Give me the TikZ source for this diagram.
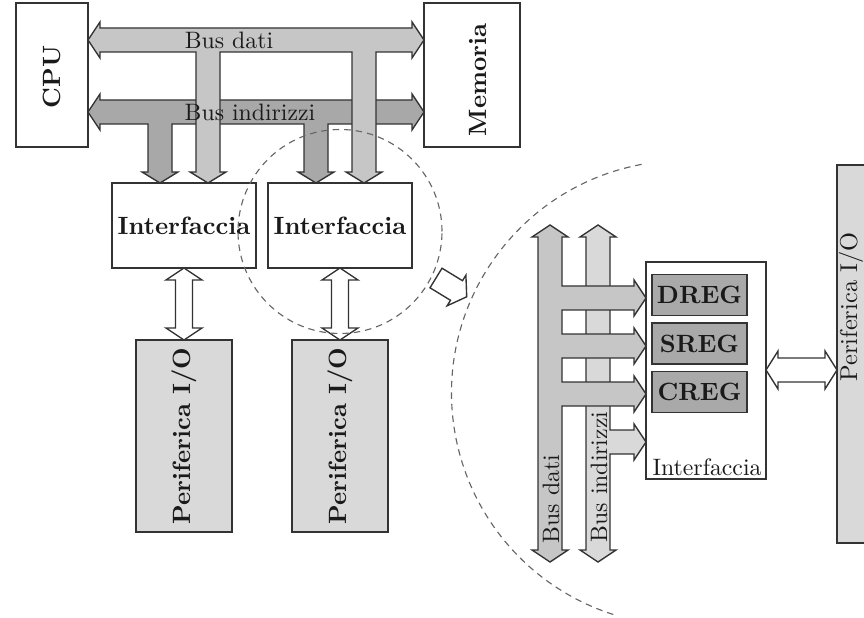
\documentclass[tikz,border=0pt]{standalone}
\usetikzlibrary{fit}
\definecolor{busD}{HTML}{C6C6C6}
\definecolor{busI}{HTML}{A8A8A8}
\definecolor{lightF}{HTML}{D9D9D9}
\definecolor{regF}{HTML}{A9A9A9}
\definecolor{lc}{HTML}{333333}
\definecolor{dashc}{HTML}{666666}
\definecolor{tc}{HTML}{1A1A1A}
\begin{document}
\begin{tikzpicture}[x=0.4pt,y=-0.4pt,
  box/.style={draw=lc, line width=0.55pt, inner sep=0pt, fill=white},
  greybox/.style={box, fill=lightF},
  regbox/.style={box, fill=regF},
  fat/.style={draw=lc, line width=0.55pt, line join=miter},
  lbl/.style={font=\bfseries, text=tc, inner sep=0pt},
  buslbl/.style={font=\fontsize{9.5}{11}\selectfont, text=tc, inner sep=0pt},
  dashcirc/.style={draw=dashc, line width=0.45pt, dash pattern=on 2.6pt off 2pt}]
\clip (0,0) rectangle (864,618);
\fill[white] (0,0) rectangle (864,618);

% ---------- left part: boxes ----------
\node[box, fit={(16,3) (88,147)}] (cpu) {};
\node[box, fit={(424,3) (520,147)}] (mem) {};
\node[box, fit={(112,183) (256,268)}] (if1) {};
\node[box, fit={(268,183) (412,268)}] (if2) {};
\node[greybox, fit={(136,340) (232,532)}] (per1) {};
\node[greybox, fit={(292,340) (388,532)}] (per2) {};

% Bus indirizzi (top)
\draw[fat, fill=busI] (88,112) -- (100,94) -- (100,100) -- (412,100) -- (412,94) -- (424,112)
  -- (412,130) -- (412,124) -- (328,124) -- (328,172) -- (334,172) -- (316,183) -- (298,172)
  -- (304,172) -- (304,124) -- (172,124) -- (172,172) -- (178,172) -- (160,183) -- (142,172)
  -- (148,172) -- (148,124) -- (100,124) -- (100,130) -- cycle;
% Bus dati (top)
\draw[fat, fill=busD] (88,40) -- (100,22) -- (100,28) -- (412,28) -- (412,22) -- (424,40)
  -- (412,58) -- (412,52) -- (376,52) -- (376,172) -- (382,172) -- (364,183) -- (346,172)
  -- (352,172) -- (352,52) -- (220,52) -- (220,172) -- (226,172) -- (208,183) -- (190,172)
  -- (196,172) -- (196,52) -- (100,52) -- (100,58) -- cycle;

\node[buslbl] (bdl) at (229,40) {Bus dati};
\node[buslbl] (bil) at (250,112) {Bus indirizzi};

% white double arrows interface <-> peripheral
\foreach \cx in {184,340}{
  \draw[fat, fill=white] (\cx,268) -- (\cx+18,280) -- (\cx+8.5,280) -- (\cx+8.5,328) -- (\cx+18,328)
    -- (\cx,340) -- (\cx-18,328) -- (\cx-8.5,328) -- (\cx-8.5,280) -- (\cx-18,280) -- cycle;
}

\node[lbl, rotate=90] (cput) at (52,77) {CPU};
\node[lbl, rotate=90] (memt) at (478,80) {Memoria};
\node[lbl] (if1t) at (184,226) {Interfaccia};
\node[lbl] (if2t) at (340,226) {Interfaccia};
\node[lbl, rotate=90] (per1t) at (184,436) {Periferica I/O};
\node[lbl, rotate=90] (per2t) at (340,436) {Periferica I/O};

% dashed circles
\draw[dashcirc] (340,231.5) circle[radius=40.8pt];
\draw[dashcirc] ([shift={(100.5:93pt)}]684,393) arc[start angle=100.5, end angle=253, radius=93pt];

% small zoom arrow
\draw[fat, fill=white] (442,268.2) -- (462.5,280.7) -- (465.9,275.2) -- (466.7,296.8)
  -- (447.1,305.8) -- (450.5,300.3) -- (430,287.8) -- cycle;

% ---------- right part ----------
\node[box, fit={(646,262) (766,479)}] (ifR) {};
\node[regbox, fit={(652,274.5) (747,315.5)}] (dreg) {};
\node[regbox, fit={(652,323) (747,364)}] (sreg) {};
\node[regbox, fit={(652,371.5) (747,412.5)}] (creg) {};
\node[greybox, fit={(837,165) (905,543)}] (perR) {};

% right bus indirizzi
\draw[fat, fill=lightF] (598,225) -- (616,237) -- (610,237) -- (610,430) -- (634,430) -- (634,424)
  -- (646,442) -- (634,460) -- (634,454) -- (610,454) -- (610,550) -- (616,550) -- (598,562)
  -- (580,550) -- (586,550) -- (586,237) -- (580,237) -- cycle;
% right bus dati
\draw[fat, fill=busD] (550,225) -- (568,237) -- (562,237) -- (562,286) -- (634,286) -- (634,280)
  -- (646,298) -- (634,316) -- (634,310) -- (562,310) -- (562,334) -- (634,334) -- (634,328)
  -- (646,346) -- (634,364) -- (634,358) -- (562,358) -- (562,382) -- (634,382) -- (634,376)
  -- (646,394) -- (634,412) -- (634,406) -- (562,406) -- (562,550) -- (568,550) -- (550,562)
  -- (532,550) -- (538,550) -- (538,237) -- (532,237) -- cycle;

% interface <-> peripheral
\draw[fat, fill=white] (766,370) -- (778,351) -- (778,358) -- (825,358) -- (825,351) -- (837,370)
  -- (825,389) -- (825,382) -- (778,382) -- (778,389) -- cycle;

\node[lbl] (dregt) at (dreg) {DREG};
\node[lbl] (sregt) at (sreg) {SREG};
\node[lbl] (cregt) at (creg) {CREG};
\node[buslbl, anchor=base] (ifRt) at (707,475) {Interfaccia};
\node[buslbl, rotate=90] (bdv) at (551,499) {Bus dati};
\node[buslbl, rotate=90] (biv) at (599,477) {Bus indirizzi};
\node[font=\fontsize{9.75}{11}\selectfont, text=tc, inner sep=0pt, rotate=90] (perRt) at (851,307) {Periferica I/O};
\end{tikzpicture}
\end{document}
